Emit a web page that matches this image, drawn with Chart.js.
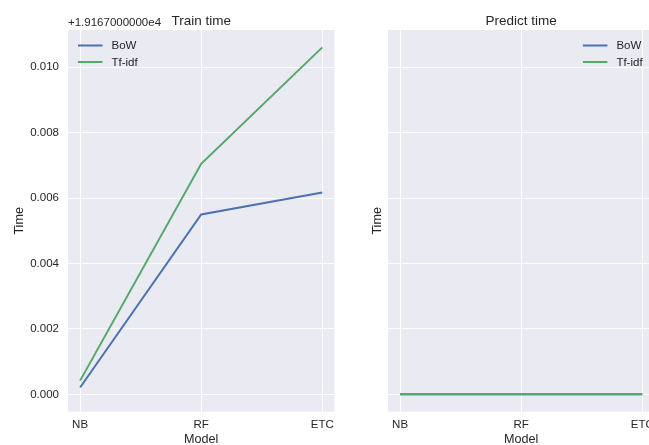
<!DOCTYPE html>
<html>
<head>
<meta charset="utf-8">
<script src="https://cdn.jsdelivr.net/npm/chart.js@4/dist/chart.umd.min.js"></script>
<style>
  html, body { margin: 0; padding: 0; background: #fff; overflow: hidden; width: 649px; height: 445px; }
  #wrap { position: relative; width: 649px; height: 445px; overflow: hidden; }
  canvas { position: absolute; top: 0; }
</style>
</head>
<body>
<div id="wrap">
  <canvas id="train" width="340" height="445" style="left:0;width:340px;height:445px"></canvas>
  <canvas id="predict" width="320" height="445" style="left:340px;width:320px;height:445px"></canvas>
</div>
<script>
// Models on the x axis
const models = ['NB', 'RF', 'ETC'];
const seriesNames = ['BoW', 'Tf-idf'];
// Times in seconds above the shared axis offset (+1.9167e4)
const trainBow = [0.00021, 0.00550, 0.00617];
const trainTfidf = [0.00042, 0.00705, 0.01061];
const predictBow = [0.0, 0.0, 0.0];
const predictTfidf = [0.0, 0.0, 0.0];
const yTicks = [0.000, 0.002, 0.004, 0.006, 0.008, 0.010];
const offsetLabel = '+1.9167000000e4';

const FONT = '"Liberation Sans", Arial, Helvetica, sans-serif';
const INK = '#262626';
const COLORS = ['#4C72B0', '#55A868'];

// shared y limits with 5% margins, like the sharey subplot pair
const allVals = [].concat(trainBow, trainTfidf, predictBow, predictTfidf);
const yLo = Math.min(...allVals), yHi = Math.max(...allVals);
const yPad = (yHi - yLo) * 0.05;
const xPad = (models.length - 1) * 0.05;

function toPoints(arr) { return arr.map((v, i) => ({ x: i, y: v })); }

function makeDatasets(a, b) {
  return [a, b].map((arr, i) => ({
    label: seriesNames[i],
    data: toPoints(arr),
    borderColor: COLORS[i],
    backgroundColor: COLORS[i],
    borderWidth: 2,
    pointRadius: 0,
    tension: 0,
    order: 1 - i
  }));
}

function decorPlugin(cfg) {
  return {
    id: 'decor',
    beforeDraw(chart) {
      const { ctx, chartArea: a } = chart;
      ctx.save();
      ctx.fillStyle = '#EAEAF2';
      ctx.fillRect(a.left, a.top, a.right - a.left, a.bottom - a.top);
      ctx.restore();
    },
    afterDraw(chart) {
      const { ctx, chartArea: a } = chart;
      ctx.save();
      ctx.fillStyle = INK;
      // panel title
      ctx.font = '13.5px ' + FONT;
      ctx.textAlign = 'center';
      ctx.textBaseline = 'alphabetic';
      ctx.fillText(cfg.title, (a.left + a.right) / 2, 25);
      // axis offset text
      if (cfg.offset) {
        ctx.font = '11.5px ' + FONT;
        ctx.textAlign = 'left';
        ctx.fillText(cfg.offset, a.left, 26);
      }
      // legend
      ctx.font = '11.5px ' + FONT;
      ctx.textAlign = 'left';
      ctx.textBaseline = 'middle';
      const x0 = cfg.legendRight ? a.right - 71.5 : a.left + 10;
      chart.data.datasets.forEach((ds, i) => {
        const y = 45.5 + i * 16.5;
        ctx.strokeStyle = ds.borderColor;
        ctx.lineWidth = 2;
        ctx.beginPath();
        ctx.moveTo(x0, y);
        ctx.lineTo(x0 + 24.5, y);
        ctx.stroke();
        ctx.fillStyle = INK;
        ctx.fillText(ds.label, x0 + 33.5, y + 0.5);
      });
      ctx.restore();
    }
  };
}

function makeChart(id, a, b, opt) {
  return new Chart(document.getElementById(id), {
    type: 'line',
    data: { datasets: makeDatasets(a, b) },
    options: {
      responsive: false,
      animation: false,
      devicePixelRatio: 1,
      layout: { padding: { top: 30, right: opt.padRight, left: 0, bottom: 0 } },
      plugins: { legend: { display: false }, tooltip: { enabled: false }, title: { display: false } },
      scales: {
        x: {
          type: 'linear',
          min: -xPad,
          max: models.length - 1 + xPad,
          afterBuildTicks: s => { s.ticks = models.map((m, i) => ({ value: i })); },
          afterFit: s => { s.height = 33.3; },
          grid: { color: '#ffffff', lineWidth: 1, drawTicks: false },
          border: { display: false },
          ticks: {
            callback: v => models[v],
            color: INK,
            font: { family: FONT, size: 11.5 },
            padding: 6,
            maxRotation: 0,
            autoSkip: false
          },
          title: {
            display: true,
            text: 'Model',
            color: INK,
            font: { family: FONT, size: 12.6 },
            padding: { top: 0, bottom: -2 }
          }
        },
        y: {
          type: 'linear',
          min: yLo - yPad,
          max: yHi + yPad,
          afterBuildTicks: s => { s.ticks = yTicks.map(v => ({ value: v })); },
          afterFit: s => { s.width = opt.yWidth; },
          grid: { color: '#ffffff', lineWidth: 1, drawTicks: false },
          border: { display: false },
          ticks: {
            display: opt.showYTicks,
            callback: v => v.toFixed(3),
            color: INK,
            font: { family: FONT, size: 11.5 },
            padding: 9
          },
          title: {
            display: true,
            text: 'Time',
            color: INK,
            font: { family: FONT, size: 12.6 },
            padding: { top: opt.yTitlePad, bottom: 0 }
          }
        }
      }
    },
    plugins: [decorPlugin(opt)]
  });
}

makeChart('train', trainBow, trainTfidf, {
  title: 'Train time', offset: offsetLabel, legendRight: false,
  padRight: 5, yWidth: 68, showYTicks: true, yTitlePad: 11.5
});
makeChart('predict', predictBow, predictTfidf, {
  title: 'Predict time', offset: null, legendRight: true,
  padRight: 4.5, yWidth: 48, showYTicks: false, yTitlePad: 30
});
</script>
</body>
</html>
